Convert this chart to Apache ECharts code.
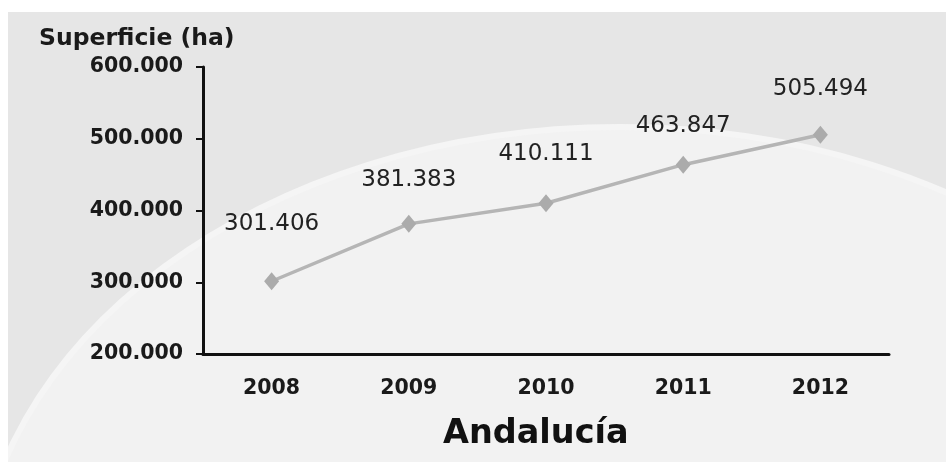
<!DOCTYPE html>
<html>
<head>
<meta charset="utf-8">
<script src="https://cdn.jsdelivr.net/npm/echarts@6/dist/echarts.min.js"></script>
<style>
  html, body { margin: 0; padding: 0; background: #ffffff; }
  #chart { width: 946px; height: 468px; }
</style>
</head>
<body>
<div id="chart"></div>
<script>
// Cultivated surface in Andalucía, hectares per year
const years = ['2008', '2009', '2010', '2011', '2012'];
const superficie = [301406, 381383, 410111, 463847, 505494];
const yTicks = { min: 200000, max: 600000, step: 100000 };

// Vertical lift of each value label above its marker (px)
const labelLift = [37, 23, 29, 18, 25];

const FONT = 'DejaVu Sans';

// Spanish-style thousands separator: 301406 -> "301.406"
function fmt(v) {
  return String(Math.round(v)).replace(/\B(?=(\d{3})+(?!\d))/g, '.');
}

const chart = echarts.init(document.getElementById('chart'), null, { renderer: 'canvas' });

chart.setOption({
  backgroundColor: '#ffffff',
  animation: false,
  graphic: [
    // grey panel
    { type: 'rect', z: -10, silent: true,
      shape: { x: 8, y: 12, width: 938, height: 450 },
      style: { fill: '#e6e6e6' } },
    // lighter sweeping arc
    { type: 'ellipse', z: -9, silent: true,
      shape: { cx: 620, cy: 605, rx: 645, ry: 478 },
      style: { fill: '#f2f2f2', stroke: '#f5f5f5', lineWidth: 6 } },
    // white margins around the panel
    { type: 'rect', z: -8, silent: true,
      shape: { x: 0, y: 0, width: 8, height: 468 },
      style: { fill: '#ffffff' } },
    { type: 'rect', z: -8, silent: true,
      shape: { x: 0, y: 462, width: 946, height: 6 },
      style: { fill: '#ffffff' } },
    { type: 'rect', z: -8, silent: true,
      shape: { x: 0, y: 0, width: 946, height: 12 },
      style: { fill: '#ffffff' } }
  ],
  title: [
    { text: 'Superficie (ha)', left: 39, top: 27, padding: 0,
      textStyle: { fontFamily: FONT, fontSize: 23.5, fontWeight: 'bold', color: '#1a1a1a' } },
    { text: 'Andalucía', left: 443, top: 417, padding: 0,
      textStyle: { fontFamily: FONT, fontSize: 33.5, fontWeight: 'bold', color: '#111111' } }
  ],
  grid: { left: 203, right: 57, top: 67, bottom: 114 },
  xAxis: {
    type: 'category',
    data: years,
    boundaryGap: true,
    axisLine: { lineStyle: { color: '#111111', width: 3 } },
    axisTick: { alignWithLabel: true, length: 7, lineStyle: { color: '#111111', width: 2 } },
    axisLabel: { fontFamily: FONT, fontSize: 20.5, fontWeight: 'bold', color: '#1a1a1a', margin: 24 },
    splitLine: { show: false }
  },
  yAxis: {
    type: 'value',
    min: yTicks.min,
    max: yTicks.max,
    interval: yTicks.step,
    axisLine: { show: true, lineStyle: { color: '#111111', width: 3 } },
    axisTick: { show: true, length: 7, lineStyle: { color: '#111111', width: 2 } },
    axisLabel: { fontFamily: FONT, fontSize: 20.5, fontWeight: 'bold', color: '#1a1a1a', margin: 20,
      formatter: fmt },
    splitLine: { show: false }
  },
  series: [{
    type: 'line',
    data: superficie.map((v, i) => ({
      value: v,
      label: { distance: labelLift[i] }
    })),
    symbol: 'diamond',
    symbolSize: [15, 18],
    lineStyle: { color: '#b5b5b5', width: 3.5 },
    itemStyle: { color: '#ababab' },
    label: {
      show: true,
      position: 'top',
      fontFamily: FONT,
      fontSize: 23,
      color: '#222222',
      formatter: p => fmt(p.value)
    }
  }]
});
</script>
</body>
</html>
